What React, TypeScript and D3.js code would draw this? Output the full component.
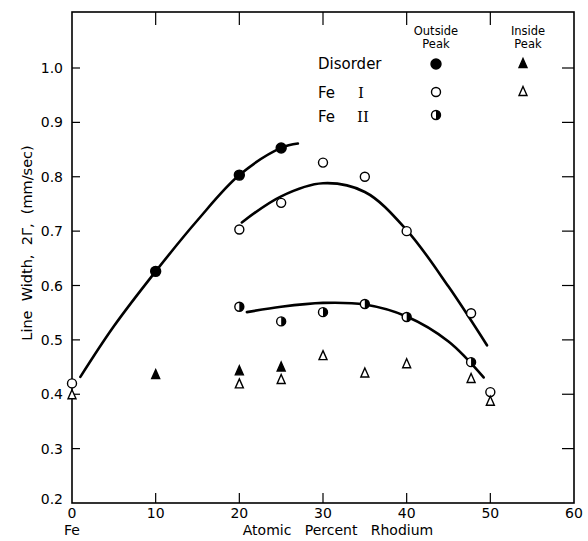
import React from "react";
import * as d3 from "d3";

// values: [atomic % Rh, line width (mm/sec)]
const disorderOutside = [[10, 0.626], [20, 0.803], [25, 0.853]];
const disorderInside = [[10, 0.437], [20, 0.444], [25, 0.451]];
const fe1Outside = [[0, 0.42], [20, 0.703], [25, 0.752], [30, 0.826], [35, 0.8], [40, 0.7], [47.7, 0.549], [50, 0.404]];
const fe1Inside = [[0, 0.4], [20, 0.42], [25, 0.428], [30, 0.472], [35, 0.44], [40, 0.457], [47.7, 0.43], [50, 0.388]];
const fe2Outside = [[20, 0.561], [25, 0.534], [30, 0.551], [35, 0.566], [40, 0.542], [47.7, 0.459]];

// hand-drawn fit curves
const disorderCurve = [[1, 0.432], [5, 0.525], [10, 0.626], [15, 0.72], [20, 0.803], [25, 0.853], [27, 0.861]];
const fe1Curve = [[20.3, 0.716], [25, 0.764], [30, 0.788], [35, 0.772], [40, 0.702], [45, 0.598], [49.6, 0.49]];
const fe2Curve = [[20.9, 0.551], [25, 0.561], [30, 0.568], [35, 0.565], [40, 0.543], [45, 0.497], [49.2, 0.431]];

const xTicks = [0, 10, 20, 30, 40, 50, 60];
const yTicks = [0.2, 0.3, 0.4, 0.5, 0.6, 0.7, 0.8, 0.9, 1.0];

const W = 588, H = 541;
const left = 72, right = 574, top = 12, bottom = 503;
const font = "DejaVu Sans";

const x = d3.scaleLinear().domain([0, 60]).range([left, right]);
const y = d3.scaleLinear().domain([0.2, 1.0]).range([bottom, 68]);

const line = d3
  .line<number[]>()
  .x((d) => x(d[0]))
  .y((d) => y(d[1]))
  .curve(d3.curveCatmullRom.alpha(0.5));

const R = 4.5;

const Circle = ({ cx, cy, kind }: { cx: number; cy: number; kind: string }) => {
  if (kind === "half") {
    return (
      <g>
        <circle cx={cx} cy={cy} r={R} fill="white" stroke="black" strokeWidth={1.4} />
        <path d={`M${cx},${cy - R} A${R},${R} 0 0 1 ${cx},${cy + R} Z`} fill="black" />
      </g>
    );
  }
  return (
    <circle
      cx={cx}
      cy={cy}
      r={kind === "filled" ? R + 0.5 : R}
      fill={kind === "filled" ? "black" : "white"}
      stroke="black"
      strokeWidth={1.4}
    />
  );
};

const Tri = ({ cx, cy, filled }: { cx: number; cy: number; filled: boolean }) => {
  const h = 9, w = 8;
  const d = `M${cx},${cy - h / 2} L${cx + w / 2},${cy + h / 2} L${cx - w / 2},${cy + h / 2} Z`;
  return <path d={d} fill={filled ? "black" : "white"} stroke="black" strokeWidth={1.4} />;
};

export default function App() {
  const tl = 10;
  return (
    <svg width={W} height={H} style={{ position: "absolute", left: 0, top: 0, background: "white" }}>
      {/* frame */}
      <rect x={left} y={top} width={right - left} height={bottom - top} fill="none" stroke="black" strokeWidth={1.6} />

      {/* x ticks, bottom and top, inward */}
      {xTicks.slice(1, -1).map((t) => (
        <g key={"xt" + t}>
          <line x1={x(t)} x2={x(t)} y1={bottom} y2={bottom - tl} stroke="black" strokeWidth={1.2} />
          <line x1={x(t)} x2={x(t)} y1={top} y2={top + tl + 3} stroke="black" strokeWidth={1.2} />
        </g>
      ))}
      {xTicks.map((t) => (
        <text key={"xl" + t} x={x(t)} y={518} textAnchor="middle" fontFamily={font} fontSize={14}>
          {t}
        </text>
      ))}

      {/* y ticks, left and right, inward */}
      {yTicks.slice(1).map((t) => (
        <g key={"yt" + t}>
          <line x1={left} x2={left + 8} y1={y(t)} y2={y(t)} stroke="black" strokeWidth={1.2} />
          <line x1={right} x2={right - 12} y1={y(t)} y2={y(t)} stroke="black" strokeWidth={1.2} />
        </g>
      ))}
      {yTicks.map((t) => (
        <text
          key={"yl" + t}
          x={63}
          y={t === 0.2 ? y(t) + 1 : y(t) + 5}
          textAnchor="end"
          fontFamily={font}
          fontSize={14}
        >
          {t.toFixed(1)}
        </text>
      ))}

      {/* axis titles */}
      <text x={72} y={535} textAnchor="middle" fontFamily={font} fontSize={14}>
        Fe
      </text>
      <text x={338} y={535} textAnchor="middle" fontFamily={font} fontSize={14} style={{ whiteSpace: "pre" }}>
        {"Atomic   Percent   Rhodium"}
      </text>
      <text
        transform="translate(32,243) rotate(-90)"
        textAnchor="middle"
        fontFamily={font}
        fontSize={14.5}
        style={{ whiteSpace: "pre" }}
      >
        {"Line  Width,  2Γ,  (mm/sec)"}
      </text>

      {/* curves */}
      {[disorderCurve, fe1Curve, fe2Curve].map((c, i) => (
        <path key={"c" + i} d={line(c) || ""} fill="none" stroke="black" strokeWidth={2.6} strokeLinecap="round" />
      ))}

      {/* points */}
      {disorderOutside.map((d, i) => (
        <Circle key={"do" + i} cx={x(d[0])} cy={y(d[1])} kind="filled" />
      ))}
      {fe1Outside.map((d, i) => (
        <Circle key={"f1o" + i} cx={x(d[0])} cy={y(d[1])} kind="open" />
      ))}
      {fe2Outside.map((d, i) => (
        <Circle key={"f2o" + i} cx={x(d[0])} cy={y(d[1])} kind="half" />
      ))}
      {disorderInside.map((d, i) => (
        <Tri key={"di" + i} cx={x(d[0])} cy={y(d[1])} filled={true} />
      ))}
      {fe1Inside.map((d, i) => (
        <Tri key={"f1i" + i} cx={x(d[0])} cy={y(d[1])} filled={false} />
      ))}

      {/* legend */}
      <g fontFamily={font} fontSize={11.5} textAnchor="middle">
        <text x={436} y={35}>Outside</text>
        <text x={436} y={48}>Peak</text>
        <text x={528} y={35}>Inside</text>
        <text x={528} y={48}>Peak</text>
      </g>
      <g fontFamily={font} fontSize={15}>
        <text x={318} y={69}>Disorder</text>
        <text x={318} y={98}>Fe</text>
        <text x={358} y={98} fontFamily="DejaVu Serif">I</text>
        <text x={318} y={122}>Fe</text>
        <text x={357} y={122} fontFamily="DejaVu Serif">II</text>
      </g>
      <Circle cx={436} cy={64} kind="filled" />
      <Circle cx={436} cy={92} kind="open" />
      <Circle cx={436} cy={115} kind="half" />
      <Tri cx={523} cy={63} filled={true} />
      <Tri cx={523} cy={91} filled={false} />
    </svg>
  );
}
